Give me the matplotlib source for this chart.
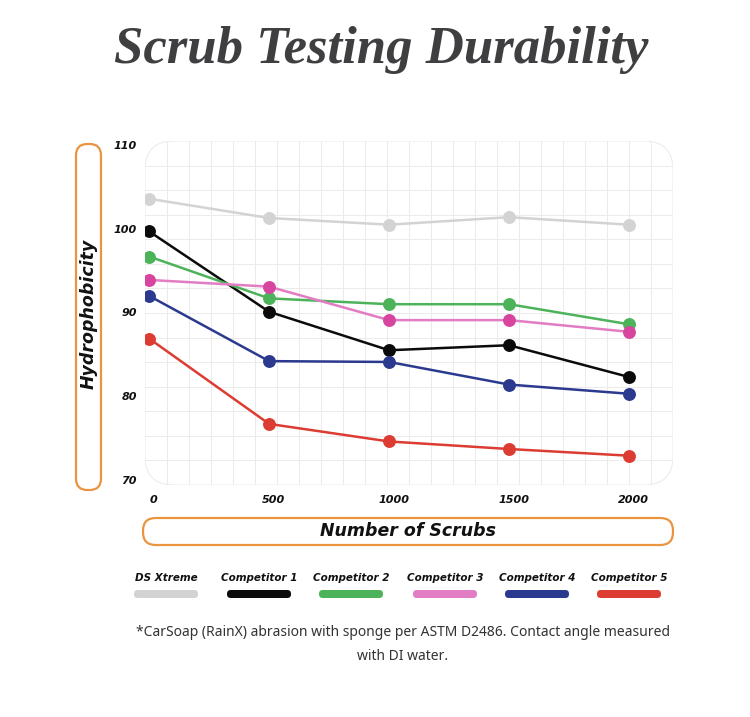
import numpy as np
import matplotlib
matplotlib.use("Agg")
import matplotlib.pyplot as plt
from matplotlib.patches import FancyBboxPatch

# data
scrubs = [0, 500, 1000, 1500, 2000]
ds_xtreme = [103.7, 101.4, 100.6, 101.5, 100.6]
comp1 = [99.8, 90.2, 85.6, 86.2, 82.4]
comp2 = [96.8, 91.8, 91.1, 91.1, 88.7]
comp3 = [94.0, 93.2, 89.2, 89.2, 87.8]
comp4 = [92.1, 84.3, 84.2, 81.5, 80.4]
comp5 = [87.0, 76.8, 74.7, 73.8, 73.0]
names = ["DS Xtreme", "Competitor 1", "Competitor 2", "Competitor 3", "Competitor 4", "Competitor 5"]
series = [ds_xtreme, comp1, comp2, comp3, comp4, comp5]
line_cols = ["#d3d3d3", "#0b0b0b", "#4db35b", "#e27cc3", "#2b3a8f", "#dc3c31"]
mark_cols = ["#d3d3d3", "#0b0b0b", "#4db35b", "#d8459f", "#2b3a8f", "#dc3c31"]
yticks = [70, 80, 90, 100, 110]
xticks = [0, 500, 1000, 1500, 2000]

W, H = 750, 717
fig = plt.figure(figsize=(W/100, H/100), dpi=100)
def fx(px): return px/W
def fy(py): return 1-py/H

TICKF = dict(family="DejaVu Sans", fontweight="bold", style="italic")
ORANGE = "#ea9440"

fig.text(fx(381), fy(50), "Scrub Testing Durability", ha="center", va="center",
         family="Liberation Serif", fontweight="bold", style="italic", fontsize=38, color="#3f3f42")

# plot area
L, R, T, B = 145, 673, 141, 485
ax = fig.add_axes([fx(L), fy(B), fx(R-L), (B-T)/H])
xlim = (-17, 2183); ylim = (69.5, 110.6)
ax.set_xlim(*xlim); ax.set_ylim(*ylim)
for s in ax.spines.values(): s.set_visible(False)
ax.set_xticks([]); ax.set_yticks([])
ax.patch.set_alpha(0)
asp = (R-L)/(B-T)
bg = FancyBboxPatch((0, 0), 1, 1, boxstyle="round,pad=0,rounding_size=0.055", mutation_aspect=asp,
                    transform=ax.transAxes, facecolor="white", edgecolor="#ececec", lw=0.8, zorder=0)
ax.add_patch(bg)
for gx in np.linspace(*xlim, 25)[1:-1]:
    l = ax.axvline(gx, color="#ebebeb", lw=0.7, zorder=1); l.set_clip_path(bg)
for gy in np.linspace(*ylim, 15)[1:-1]:
    l = ax.axhline(gy, color="#ebebeb", lw=0.7, zorder=1); l.set_clip_path(bg)

for vals, lc, mc in zip(series, line_cols, mark_cols):
    ax.plot(scrubs, vals, color=lc, lw=1.8, zorder=3)
    ax.plot(scrubs, vals, "o", color=mc, ms=9.3, mec="none", zorder=4)

# tick labels
for v in yticks:
    ax.text(-0.015, (v-ylim[0])/(ylim[1]-ylim[0]), str(v), transform=ax.transAxes, ha="right", va="center",
            fontsize=8, color="#111", **TICKF)
for v in xticks:
    ax.text(v + 20, -0.03, str(v), transform=ax.get_xaxis_transform(), ha="center", va="top",
            fontsize=8, color="#111", **TICKF)

# axis label boxes
fig.patches.append(FancyBboxPatch((fx(76), fy(490)), fx(25), (490-144)/H, boxstyle="round,pad=0,rounding_size=0.015",
                                  mutation_aspect=W/H, transform=fig.transFigure, facecolor="white",
                                  edgecolor=ORANGE, lw=1.6))
fig.text(fx(89), fy(314), "Hydrophobicity", rotation=90, ha="center", va="center", fontsize=12.5, color="#111", **TICKF)
fig.patches.append(FancyBboxPatch((fx(143), fy(545)), fx(530), 27/H, boxstyle="round,pad=0,rounding_size=0.017",
                                  mutation_aspect=W/H, transform=fig.transFigure, facecolor="white",
                                  edgecolor=ORANGE, lw=1.6))
fig.text(fx(408), fy(531), "Number of Scrubs", ha="center", va="center", fontsize=12.5, color="#111", **TICKF)

# legend
leg_x = [166, 259, 351, 445, 537, 629]
for name, lc, cx in zip(names, line_cols, leg_x):
    fig.text(fx(cx), fy(578), name, ha="center", va="center", fontsize=7.5, color="#111", **TICKF)
    fig.patches.append(FancyBboxPatch((fx(cx-32), fy(598)), fx(64), 8/H, boxstyle="round,pad=0,rounding_size=0.005",
                                      mutation_aspect=W/H, transform=fig.transFigure, facecolor=lc,
                                      edgecolor="none"))

fig.text(fx(403), fy(632), "*CarSoap (RainX) abrasion with sponge per ASTM D2486. Contact angle measured",
         ha="center", va="center", family="Noto Sans", fontsize=10, color="#333")
fig.text(fx(403), fy(656), "with DI water.", ha="center", va="center", family="Noto Sans", fontsize=10, color="#333")

fig.savefig("out.png", dpi=100)
